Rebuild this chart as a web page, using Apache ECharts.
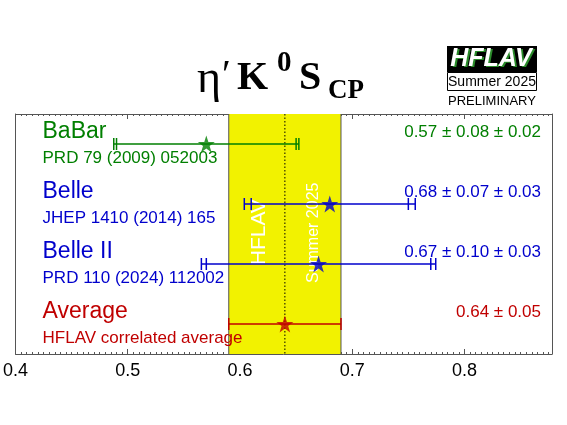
<!DOCTYPE html>
<html><head><meta charset="utf-8">
<script src="https://cdn.jsdelivr.net/npm/echarts@6/dist/echarts.min.js"></script>
<style>html,body{margin:0;padding:0;background:#fff}#c{width:567px;height:425px}</style>
</head><body><div id="c"></div>
<script>
const experiments = ['BaBar', 'Belle', 'Belle II', 'Average'];
const references = ['PRD 79 (2009) 052003', 'JHEP 1410 (2014) 165', 'PRD 110 (2024) 112002', 'HFLAV correlated average'];
const centralValues = [0.57, 0.68, 0.67, 0.64];
const statErrors = [0.08, 0.07, 0.10, 0.05];
const systErrors = [0.02, 0.03, 0.03, null];
const valueTexts = ['0.57 ± 0.08 ± 0.02', '0.68 ± 0.07 ± 0.03', '0.67 ± 0.10 ± 0.03', '0.64 ± 0.05'];
const colors = ['#007f00', '#0000cc', '#0000cc', '#c00000'];
const rowPositions = [3.5, 2.5, 1.5, 0.5];
const averageValue = 0.64;
const averageError = 0.05;
const xMin = 0.4, xMax = 0.878, yMin = 0, yMax = 4;

const FONT = 'Liberation Sans';
const chart = echarts.init(document.getElementById('c'), null, {renderer: 'canvas'});

const rows = experiments.map((e, i) => [centralValues[i], rowPositions[i], i]);

function errorBars(params, api) {
  const i = api.value(2);
  const c = centralValues[i], s = statErrors[i], y = systErrors[i];
  const tot = y == null ? s : Math.sqrt(s * s + y * y);
  const row = rowPositions[i];
  const lo = api.coord([c - tot, row]), hi = api.coord([c + tot, row]);
  const col = colors[i];
  const h = 6;
  const st = {stroke: col, lineWidth: 1.5};
  const ch = [
    {type: 'line', shape: {x1: lo[0], y1: lo[1], x2: hi[0], y2: hi[1]}, style: st},
    {type: 'line', shape: {x1: lo[0], y1: lo[1] - h, x2: lo[0], y2: lo[1] + h}, style: st},
    {type: 'line', shape: {x1: hi[0], y1: hi[1] - h, x2: hi[0], y2: hi[1] + h}, style: st}
  ];
  if (y != null) {
    const sl = api.coord([c - s, row]), sh = api.coord([c + s, row]);
    ch.push({type: 'line', shape: {x1: sl[0], y1: sl[1] - h, x2: sl[0], y2: sl[1] + h}, style: st});
    ch.push({type: 'line', shape: {x1: sh[0], y1: sh[1] - h, x2: sh[0], y2: sh[1] + h}, style: st});
  }
  return {type: 'group', children: ch};
}

function labels(params, api) {
  const i = api.value(2);
  const row = rowPositions[i];
  const p = api.coord([xMin, row]);
  const r = api.coord([xMax, row]);
  const col = colors[i];
  return {type: 'group', children: [
    {type: 'text', x: p[0] + 27, y: p[1] - 12, style: {text: experiments[i], fill: col, font: '23px "' + FONT + '"', align: 'left', verticalAlign: 'middle'}},
    {type: 'text', x: p[0] + 27, y: p[1] + 14, style: {text: references[i], fill: col, font: '17px "' + FONT + '"', align: 'left', verticalAlign: 'middle'}},
    {type: 'text', x: r[0] - 11, y: r[1] - 12, style: {text: valueTexts[i], fill: col, font: '17px "' + FONT + '"', align: 'right', verticalAlign: 'middle'}}
  ]};
}

function band(params, api) {
  const a = api.coord([averageValue - averageError, yMax]);
  const b = api.coord([averageValue + averageError, yMin]);
  const m1 = api.coord([averageValue, yMax]);
  const m2 = api.coord([averageValue, yMin]);
  const t1 = api.coord([0.617, 2.03]);
  const t2 = api.coord([0.666, 2.02]);
  return {type: 'group', children: [
    {type: 'rect', shape: {x: a[0], y: a[1], width: b[0] - a[0], height: b[1] - a[1]}, style: {fill: '#f2f200', stroke: null}},
    {type: 'line', shape: {x1: a[0], y1: a[1], x2: a[0], y2: b[1]}, style: {stroke: '#555', lineWidth: 1}},
    {type: 'line', shape: {x1: b[0], y1: a[1], x2: b[0], y2: b[1]}, style: {stroke: '#555', lineWidth: 1}},
    {type: 'line', shape: {x1: m1[0], y1: m1[1], x2: m2[0], y2: m2[1]}, style: {stroke: '#000', lineWidth: 1, lineDash: [1.5, 2]}},
    {type: 'text', x: t1[0], y: t1[1], rotation: Math.PI / 2, style: {text: 'HFLAV', fill: '#fff', font: '21px "' + FONT + '"', align: 'center', verticalAlign: 'middle'}},
    {type: 'text', x: t2[0], y: t2[1], rotation: Math.PI / 2, style: {text: 'Summer 2025', fill: '#fff', font: '16px "' + FONT + '"', align: 'center', verticalAlign: 'middle'}}
  ]};
}

const axisCommon = {
  type: 'value', min: xMin, max: xMax, interval: 0.1,
  axisLine: {show: true, onZero: false, lineStyle: {color: '#555', width: 1}},
  axisTick: {show: true, inside: true, length: 5, lineStyle: {color: '#555'}},
  minorTick: {show: true, splitNumber: 20, length: 2, lineStyle: {color: '#555'}},
  splitLine: {show: false}
};

const option = {
  animation: false,
  backgroundColor: '#fff',
  grid: {left: 14, right: 15, top: 114, bottom: 71},
  xAxis: [
    Object.assign({}, axisCommon, {position: 'bottom',
      axisLabel: {show: true, color: '#000', fontFamily: FONT, fontSize: 18, margin: 8, showMaxLabel: false,
        formatter: v => (Math.abs(v * 10 - Math.round(v * 10)) < 1e-6 ? v.toFixed(1) : '')}}),
    Object.assign({}, axisCommon, {position: 'top', axisLabel: {show: false}})
  ],
  yAxis: [
    {type: 'value', min: yMin, max: yMax, position: 'left', axisLine: {show: true, lineStyle: {color: '#555'}}, axisTick: {show: false}, axisLabel: {show: false}, splitLine: {show: false}},
    {type: 'value', min: yMin, max: yMax, position: 'right', axisLine: {show: true, lineStyle: {color: '#555'}}, axisTick: {show: false}, axisLabel: {show: false}, splitLine: {show: false}}
  ],
  graphic: [
    {type: 'text', x: 197, y: 80, style: {text: 'η', font: '46px "Liberation Serif"', fill: '#000', verticalAlign: 'middle'}},
    {type: 'text', x: 222, y: 76, style: {text: '′', font: '40px "Liberation Serif"', fill: '#000', verticalAlign: 'middle'}},
    {type: 'text', x: 237, y: 79, style: {text: 'K', font: 'bold 40px "Liberation Serif"', fill: '#000', verticalAlign: 'middle'}},
    {type: 'text', x: 277, y: 64, style: {text: '0', font: 'bold 29px "Liberation Serif"', fill: '#000', verticalAlign: 'middle'}},
    {type: 'text', x: 299, y: 79, style: {text: 'S', font: 'bold 40px "Liberation Serif"', fill: '#000', verticalAlign: 'middle'}},
    {type: 'text', x: 328, y: 91, style: {text: 'CP', font: 'bold 27px "Liberation Serif"', fill: '#000', verticalAlign: 'middle'}},
    {type: 'rect', shape: {x: 447, y: 46, width: 90, height: 26}, style: {fill: '#000'}},
    {type: 'text', x: 493, y: 60, style: {text: 'HFLAV', font: 'italic bold 25px "' + FONT + '"', fill: '#2a8a2a', align: 'center', verticalAlign: 'middle'}},
    {type: 'text', x: 491, y: 59, style: {text: 'HFLAV', font: 'italic bold 25px "' + FONT + '"', fill: '#fff', align: 'center', verticalAlign: 'middle'}},
    {type: 'rect', shape: {x: 447.5, y: 72.5, width: 89, height: 18}, style: {fill: '#fff', stroke: '#000', lineWidth: 1}},
    {type: 'text', x: 492, y: 82, style: {text: 'Summer 2025', font: '14px "' + FONT + '"', fill: '#000', align: 'center', verticalAlign: 'middle'}},
    {type: 'text', x: 492, y: 101, style: {text: 'PRELIMINARY', font: '13px "' + FONT + '"', fill: '#000', align: 'center', verticalAlign: 'middle'}}
  ],
  series: [
    {type: 'custom', xAxisIndex: 0, yAxisIndex: 0, renderItem: band, data: [[averageValue, 2, 0]], z: 1, silent: true, clip: false},
    {type: 'custom', xAxisIndex: 0, yAxisIndex: 0, renderItem: labels, data: rows, z: 3, silent: true, clip: false},
    {type: 'custom', xAxisIndex: 0, yAxisIndex: 0, renderItem: errorBars, data: rows, z: 4, silent: true},
    {type: 'scatter', xAxisIndex: 0, yAxisIndex: 0, data: rows.map(r => ({value: r, itemStyle: {color: colors[r[2]]}})),
      symbol: 'path://M50,0 L61.8,35.5 L99,35.5 L69,57.5 L80.5,93 L50,71 L19.5,93 L31,57.5 L1,35.5 L38.2,35.5 Z',
      symbolSize: 17, z: 5, silent: true}
  ]
};
chart.setOption(option);
</script></body></html>
